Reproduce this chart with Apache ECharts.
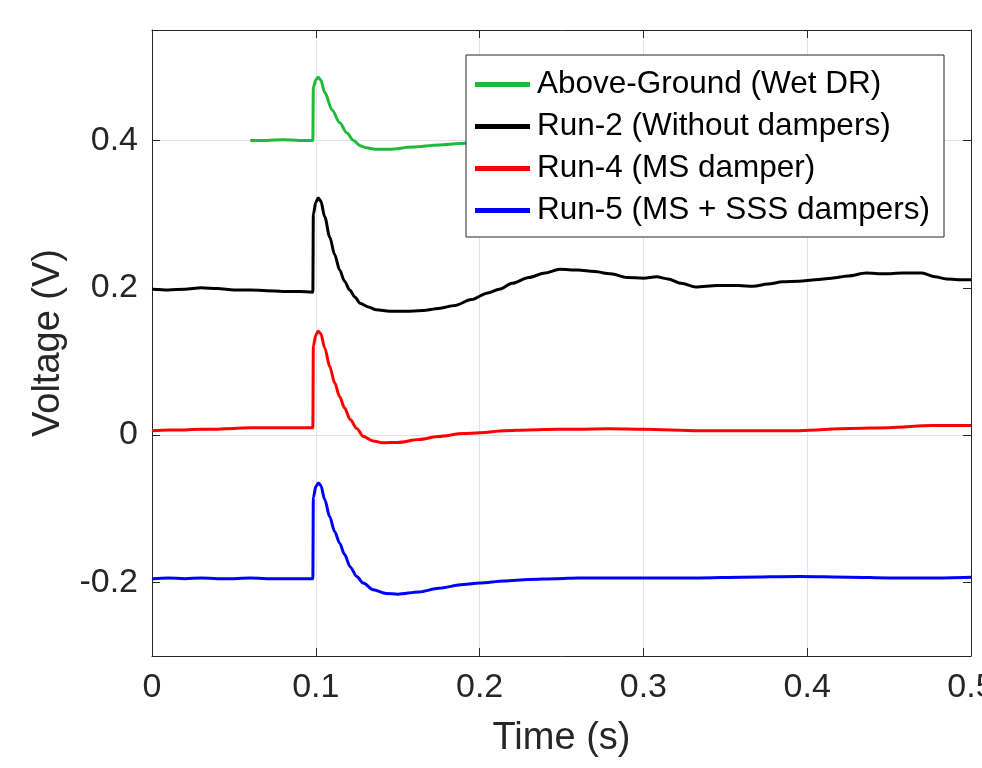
<!DOCTYPE html>
<html>
<head>
<meta charset="utf-8">
<title>Voltage vs Time</title>
<script src="https://cdn.jsdelivr.net/npm/echarts@6/dist/echarts.min.js"></script>
<style>
	html, body { margin: 0; padding: 0; background: #fff; }
	#chart { width: 982px; height: 768px; }
</style>
</head>
<body>
<div id="chart"></div>
<script>
// series names (legend order)
var names = ['Above-Ground (Wet DR)', 'Run-2 (Without dampers)', 'Run-4 (MS damper)', 'Run-5 (MS + SSS dampers)'];
var colors = ['#1fba3a', '#000000', '#ff0000', '#0000ff'];

// Above-Ground (Wet DR)
var timeAbove = [0.06, 0.07, 0.08, 0.09, 0.0982, 0.0985, 0.1, 0.1015, 0.103, 0.1055, 0.110, 0.1146, 0.119, 0.123, 0.127, 0.131, 0.136, 0.145, 0.159, 0.175, 0.188, 0.2, 0.22, 0.25, 0.3];
var voltAbove = [0.400, 0.400, 0.401, 0.400, 0.400, 0.472, 0.482, 0.486, 0.482, 0.465, 0.441, 0.424, 0.410, 0.400, 0.393, 0.390, 0.388, 0.388, 0.391, 0.394, 0.396, 0.398, 0.399, 0.400, 0.400];

// Run-2 (Without dampers)
var timeRun2 = [0, 0.01, 0.02, 0.03, 0.04, 0.05, 0.06, 0.07, 0.08, 0.09, 0.0982, 0.0985, 0.1, 0.1015, 0.103, 0.1055, 0.1085, 0.1115, 0.1146, 0.1175, 0.1207, 0.124, 0.127, 0.132, 0.137, 0.145, 0.155, 0.165, 0.175, 0.185, 0.195, 0.205, 0.212, 0.22, 0.23, 0.24, 0.249, 0.26, 0.27, 0.28, 0.29, 0.30, 0.308, 0.315, 0.323, 0.332, 0.345, 0.358, 0.367, 0.376, 0.385, 0.395, 0.405, 0.415, 0.425, 0.436, 0.447, 0.458, 0.47, 0.478, 0.485, 0.492, 0.5];
var voltRun2 = [0.198, 0.197, 0.198, 0.200, 0.199, 0.197, 0.197, 0.196, 0.195, 0.195, 0.194, 0.300, 0.316, 0.322, 0.318, 0.296, 0.269, 0.245, 0.224, 0.209, 0.197, 0.187, 0.179, 0.174, 0.170, 0.168, 0.168, 0.169, 0.172, 0.176, 0.184, 0.193, 0.198, 0.206, 0.214, 0.220, 0.225, 0.224, 0.222, 0.219, 0.214, 0.213, 0.215, 0.212, 0.206, 0.201, 0.203, 0.203, 0.202, 0.205, 0.208, 0.209, 0.211, 0.213, 0.216, 0.220, 0.219, 0.220, 0.220, 0.215, 0.212, 0.211, 0.211];

// Run-4 (MS damper)
var timeRun4 = [0, 0.01, 0.02, 0.03, 0.04, 0.05, 0.06, 0.07, 0.08, 0.09, 0.0982, 0.0985, 0.1, 0.1015, 0.103, 0.1055, 0.1085, 0.1115, 0.1146, 0.1175, 0.121, 0.125, 0.129, 0.135, 0.141, 0.15, 0.163, 0.175, 0.19, 0.2, 0.215, 0.23, 0.247, 0.26, 0.279, 0.3, 0.334, 0.36, 0.395, 0.426, 0.45, 0.476, 0.5];
var voltRun4 = [0.006, 0.007, 0.007, 0.008, 0.008, 0.009, 0.010, 0.010, 0.010, 0.010, 0.010, 0.121, 0.136, 0.141, 0.138, 0.118, 0.093, 0.071, 0.052, 0.037, 0.021, 0.009, -0.002, -0.008, -0.0105, -0.010, -0.006, -0.002, 0.002, 0.003, 0.006, 0.007, 0.008, 0.008, 0.0085, 0.008, 0.006, 0.006, 0.006, 0.009, 0.010, 0.013, 0.013];

// Run-5 (MS + SSS dampers)
var timeRun5 = [0, 0.01, 0.02, 0.03, 0.04, 0.05, 0.06, 0.07, 0.08, 0.09, 0.0982, 0.0985, 0.1, 0.1015, 0.103, 0.1055, 0.1085, 0.1115, 0.1146, 0.1175, 0.121, 0.125, 0.129, 0.135, 0.143, 0.15, 0.163, 0.175, 0.19, 0.2, 0.215, 0.23, 0.247, 0.26, 0.279, 0.3, 0.334, 0.36, 0.395, 0.426, 0.45, 0.476, 0.5];
var voltRun5 = [-0.195, -0.194, -0.195, -0.194, -0.195, -0.195, -0.194, -0.195, -0.195, -0.195, -0.195, -0.085, -0.070, -0.065, -0.068, -0.088, -0.111, -0.131, -0.147, -0.162, -0.179, -0.192, -0.201, -0.210, -0.215, -0.216, -0.213, -0.208, -0.203, -0.201, -0.198, -0.196, -0.195, -0.194, -0.194, -0.194, -0.194, -0.193, -0.192, -0.193, -0.194, -0.194, -0.193];

// tick labels
var xTicks = [0, 0.1, 0.2, 0.3, 0.4, 0.5];
var yTicks = [-0.2, 0, 0.2, 0.4];

var textColor = '#262626';
var fontName = '"Liberation Sans", Arial, sans-serif';

function pairs(t, v) {
	var result = [];
	for (var i = 0; i < t.length; i++) {
		result.push([t[i], v[i]]);
	}
	return result;
}

function makeSeries(idx, t, v) {
	return {
		name: names[idx],
		type: 'line',
		xAxisIndex: 0,
		yAxisIndex: 0,
		showSymbol: false,
		animation: false,
		smooth: 0.3,
		smoothMonotone: 'x',
		lineStyle: { width: 3, color: colors[idx] },
		itemStyle: { color: colors[idx] },
		data: pairs(t, v)
	};
}

function fmt(val) {
	var r = Math.round(val * 10) / 10;
	return r === 0 ? '0' : String(r);
}

var myChart = echarts.init(document.getElementById('chart'));
var option = {
	backgroundColor: '#fff',
	animation: false,
	color: colors,
	grid: { left: 152, right: 11, top: 30, bottom: 112, containLabel: false, outerBoundsMode: 'none' },
	legend: {
		data: names,
		orient: 'vertical',
		left: 466,
		top: 55,
		icon: 'rect',
		itemWidth: 55,
		itemHeight: 5,
		itemGap: 9,
		padding: [13, 14, 10, 9],
		backgroundColor: '#fff',
		borderColor: textColor,
		borderWidth: 1,
		textStyle: { fontFamily: fontName, fontSize: 31.5, color: '#000', lineHeight: 33, padding: [0, 0, 0, 2] }
	},
	xAxis: [{
		type: 'value',
		min: 0,
		max: 0.5,
		interval: 0.1,
		position: 'bottom',
		name: 'Time (s)',
		nameLocation: 'middle',
		nameGap: 64,
		nameTextStyle: { fontFamily: fontName, fontSize: 38, color: textColor },
		axisLine: { show: true, onZero: false, lineStyle: { color: textColor, width: 1 } },
		axisTick: { show: true, inside: true, length: 8, lineStyle: { color: textColor } },
		axisLabel: { fontFamily: fontName, fontSize: 34, color: textColor, margin: 15, formatter: fmt },
		splitLine: { show: true, lineStyle: { color: '#e3e3e3', width: 1 } }
	}, {
		type: 'value',
		min: 0,
		max: 0.5,
		interval: 0.1,
		position: 'top',
		axisLine: { show: true, onZero: false, lineStyle: { color: textColor, width: 1 } },
		axisTick: { show: true, inside: true, length: 8, lineStyle: { color: textColor } },
		axisLabel: { show: false },
		splitLine: { show: false }
	}],
	yAxis: [{
		type: 'value',
		min: -0.3,
		max: 0.55,
		interval: 0.1,
		position: 'left',
		name: 'Voltage (V)',
		nameLocation: 'middle',
		nameGap: 84,
		nameTextStyle: { fontFamily: fontName, fontSize: 38, color: textColor },
		axisLine: { show: true, onZero: false, lineStyle: { color: textColor, width: 1 } },
		axisTick: { show: true, inside: true, length: 8, customValues: yTicks, lineStyle: { color: textColor } },
		axisLabel: {
			fontFamily: fontName, fontSize: 34, color: textColor, margin: 14,
			customValues: yTicks,
			formatter: function(val) {
				var r = Math.round(val * 10) / 10;
				for (var i = 0; i < yTicks.length; i++) {
					if (Math.abs(yTicks[i] - r) < 1e-6 && Math.abs(val - r) < 1e-6) return fmt(r);
				}
				return '';
			}
		},
		splitLine: { show: true, lineStyle: { color: ['rgba(0,0,0,0)', '#e3e3e3'], width: 1 } }
	}, {
		type: 'value',
		min: -0.3,
		max: 0.55,
		interval: 0.1,
		position: 'right',
		axisLine: { show: true, onZero: false, lineStyle: { color: textColor, width: 1 } },
		axisTick: { show: true, inside: true, length: 8, customValues: yTicks, lineStyle: { color: textColor } },
		axisLabel: { show: false },
		splitLine: { show: false }
	}],
	series: [
		makeSeries(0, timeAbove, voltAbove),
		makeSeries(1, timeRun2, voltRun2),
		makeSeries(2, timeRun4, voltRun4),
		makeSeries(3, timeRun5, voltRun5)
	]
};
myChart.setOption(option);
</script>
</body>
</html>
